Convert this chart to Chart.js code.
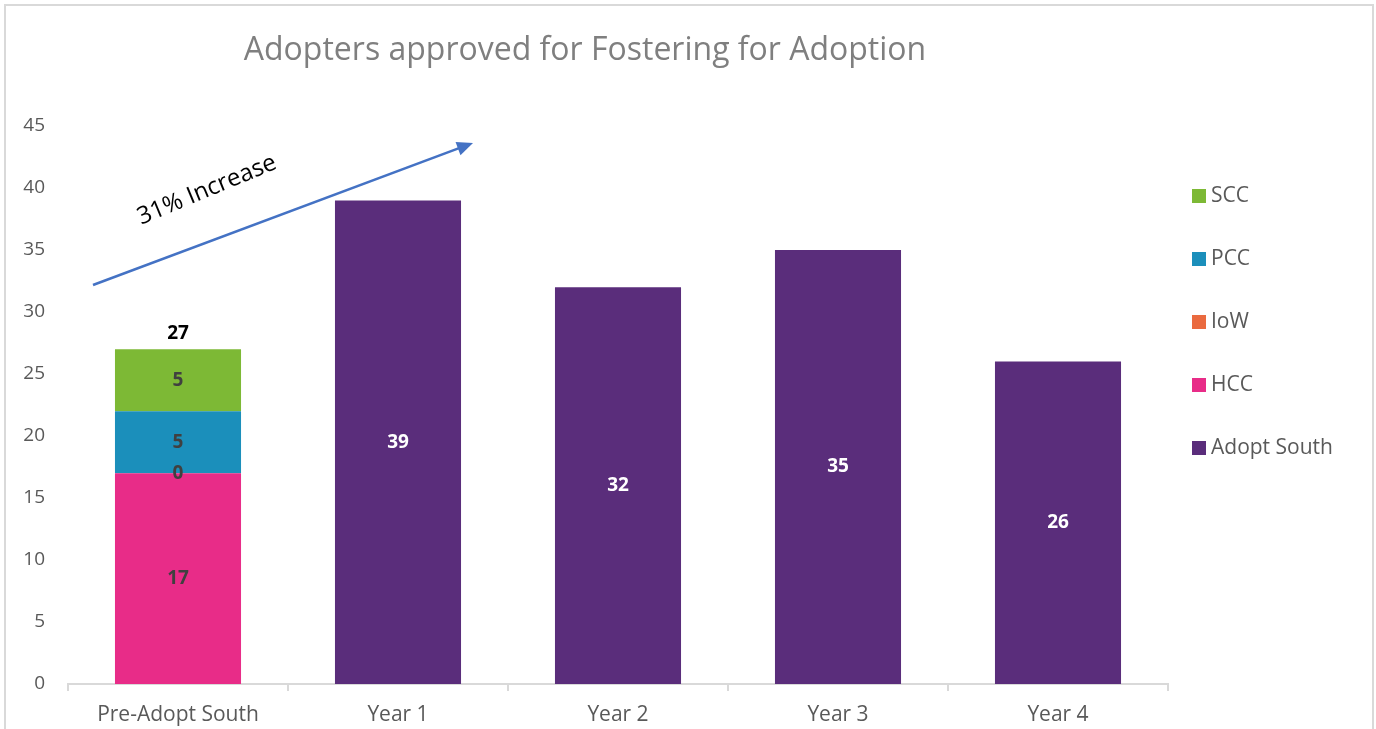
<!DOCTYPE html>
<html>
<head>
<meta charset="utf-8">
<script src="https://cdn.jsdelivr.net/npm/chart.js@4"></script>
<style>
  html, body { margin: 0; padding: 0; background: #fff; overflow: hidden; }
  #frame { position: absolute; left: 4px; top: 4px; width: 1366px; height: 800px; border: 2px solid #d9d9d9; }
  #wrap { position: absolute; left: 0; top: 0; width: 1376px; height: 729px; }
</style>
</head>
<body>
<div id="frame"></div>
<div id="wrap"><canvas id="c" width="1376" height="729"></canvas></div>
<script>
// ─── DATA ────────────────────────────────────────────────────────────────────
const categories  = ['Pre-Adopt South', 'Year 1', 'Year 2', 'Year 3', 'Year 4'];
const hccValues   = [17, null, null, null, null];
const iowValues   = [0, null, null, null, null];
const pccValues   = [5, null, null, null, null];
const sccValues   = [5, null, null, null, null];
const adoptValues = [null, 39, 32, 35, 26];
const yTicks      = [0, 5, 10, 15, 20, 25, 30, 35, 40, 45];
const legendOrder = ['SCC', 'PCC', 'IoW', 'HCC', 'Adopt South'];

const titleText  = 'Adopters approved for Fostering for Adoption';
const arrowText  = '31% Increase';

const FONT = "'Open Sans', Lato, sans-serif";
const GREY = '#595959';

// ─── PLUGIN: title, arrow, data labels, legend ───────────────────────────────
const decor = {
  id: 'decor',
  afterDatasetsDraw(chart) {
    const { ctx } = chart;
    ctx.save();

    // title
    ctx.font = '32px ' + FONT;
    ctx.fillStyle = '#7f7f7f';
    ctx.textAlign = 'center';
    ctx.textBaseline = 'middle';
    ctx.fillText(titleText, 585, 51);

    // data labels
    ctx.font = 'bold 19px ' + FONT;
    chart.data.datasets.forEach((ds, di) => {
      const meta = chart.getDatasetMeta(di);
      meta.data.forEach((bar, i) => {
        const v = ds.data[i];
        if (v === null || v === undefined) return;
        const y = (bar.y + bar.base) / 2;
        ctx.fillStyle = ds.labelColor;
        ctx.fillText(String(v), bar.x, y);
      });
    });

    // stack total on the first column
    const stackSets = chart.data.datasets.filter(d => d.isPart);
    categories.forEach((c, i) => {
      const vals = stackSets.map(d => d.data[i]).filter(v => v !== null);
      if (!vals.length) return;
      const total = vals.reduce((s, v) => s + v, 0);
      const x = chart.scales.x.getPixelForValue(i);
      const y = chart.scales.y.getPixelForValue(total);
      ctx.fillStyle = '#000';
      ctx.fillText(String(total), x, y - 16);
    });

    // arrow annotation
    ctx.strokeStyle = '#4472C4';
    ctx.fillStyle = '#4472C4';
    ctx.lineWidth = 2.5;
    const x0 = 93, y0 = 285, x1 = 473, y1 = 143;
    const ang = Math.atan2(y1 - y0, x1 - x0);
    ctx.beginPath();
    ctx.moveTo(x0, y0);
    ctx.lineTo(x1 - 12 * Math.cos(ang), y1 - 12 * Math.sin(ang));
    ctx.stroke();
    ctx.beginPath();
    ctx.moveTo(x1, y1);
    ctx.lineTo(x1 - 16 * Math.cos(ang) + 7 * Math.sin(ang), y1 - 16 * Math.sin(ang) - 7 * Math.cos(ang));
    ctx.lineTo(x1 - 16 * Math.cos(ang) - 7 * Math.sin(ang), y1 - 16 * Math.sin(ang) + 7 * Math.cos(ang));
    ctx.closePath();
    ctx.fill();

    ctx.save();
    ctx.translate(207, 190);
    ctx.rotate(-22.5 * Math.PI / 180);
    ctx.font = '24px ' + FONT;
    ctx.fillStyle = '#000';
    ctx.textAlign = 'center';
    ctx.textBaseline = 'middle';
    ctx.fillText(arrowText, 0, 0);
    ctx.restore();

    // legend
    ctx.font = '21px ' + FONT;
    ctx.textAlign = 'left';
    ctx.textBaseline = 'middle';
    legendOrder.forEach((name, k) => {
      const ds = chart.data.datasets.find(d => d.label === name);
      const cy = 195 + k * 63;
      ctx.fillStyle = ds.backgroundColor;
      ctx.fillRect(1192, cy - 6, 14, 14);
      ctx.fillStyle = GREY;
      ctx.fillText(ds.label, 1211, cy + 1);
    });

    ctx.restore();
  }
};

const mkSet = (label, data, color, labelColor, isPart) => ({
  label, data,
  backgroundColor: color,
  borderWidth: 0,
  stack: 's',
  categoryPercentage: 1.0,
  barPercentage: 0.573,
  labelColor, isPart,
});

new Chart(document.getElementById('c'), {
  type: 'bar',
  data: {
    labels: categories,
    datasets: [
      mkSet('HCC', hccValues, '#E82C88', '#404040', true),
      mkSet('IoW', iowValues, '#EA6A3F', '#404040', true),
      mkSet('PCC', pccValues, '#1B8FBB', '#404040', true),
      mkSet('SCC', sccValues, '#7DB935', '#404040', true),
      mkSet('Adopt South', adoptValues, '#5A2D7B', '#ffffff', false),
    ],
  },
  options: {
    responsive: false,
    animation: false,
    layout: { padding: { top: 126, right: 208, left: 0, bottom: 0 } },
    plugins: {
      legend: { display: false },
      title: { display: false },
      tooltip: { enabled: false },
    },
    scales: {
      x: {
        stacked: true,
        offset: true,
        grid: { offset: true, drawOnChartArea: false, color: '#d9d9d9', tickLength: 7, lineWidth: 2 },
        border: { color: '#d9d9d9', width: 2 },
        ticks: { color: GREY, font: { family: FONT, size: 21 }, padding: 11 },
        afterFit(s) { s.height = 45; },
      },
      y: {
        stacked: true,
        min: 0,
        max: 45,
        afterBuildTicks(s) { s.ticks = yTicks.map(v => ({ value: v })); },
        grid: { display: false, drawTicks: false },
        border: { display: false },
        ticks: { color: GREY, font: { family: FONT, size: 19 }, padding: 23 },
        afterFit(s) { s.width = 68; },
      },
    },
  },
  plugins: [decor],
});
</script>
</body>
</html>
